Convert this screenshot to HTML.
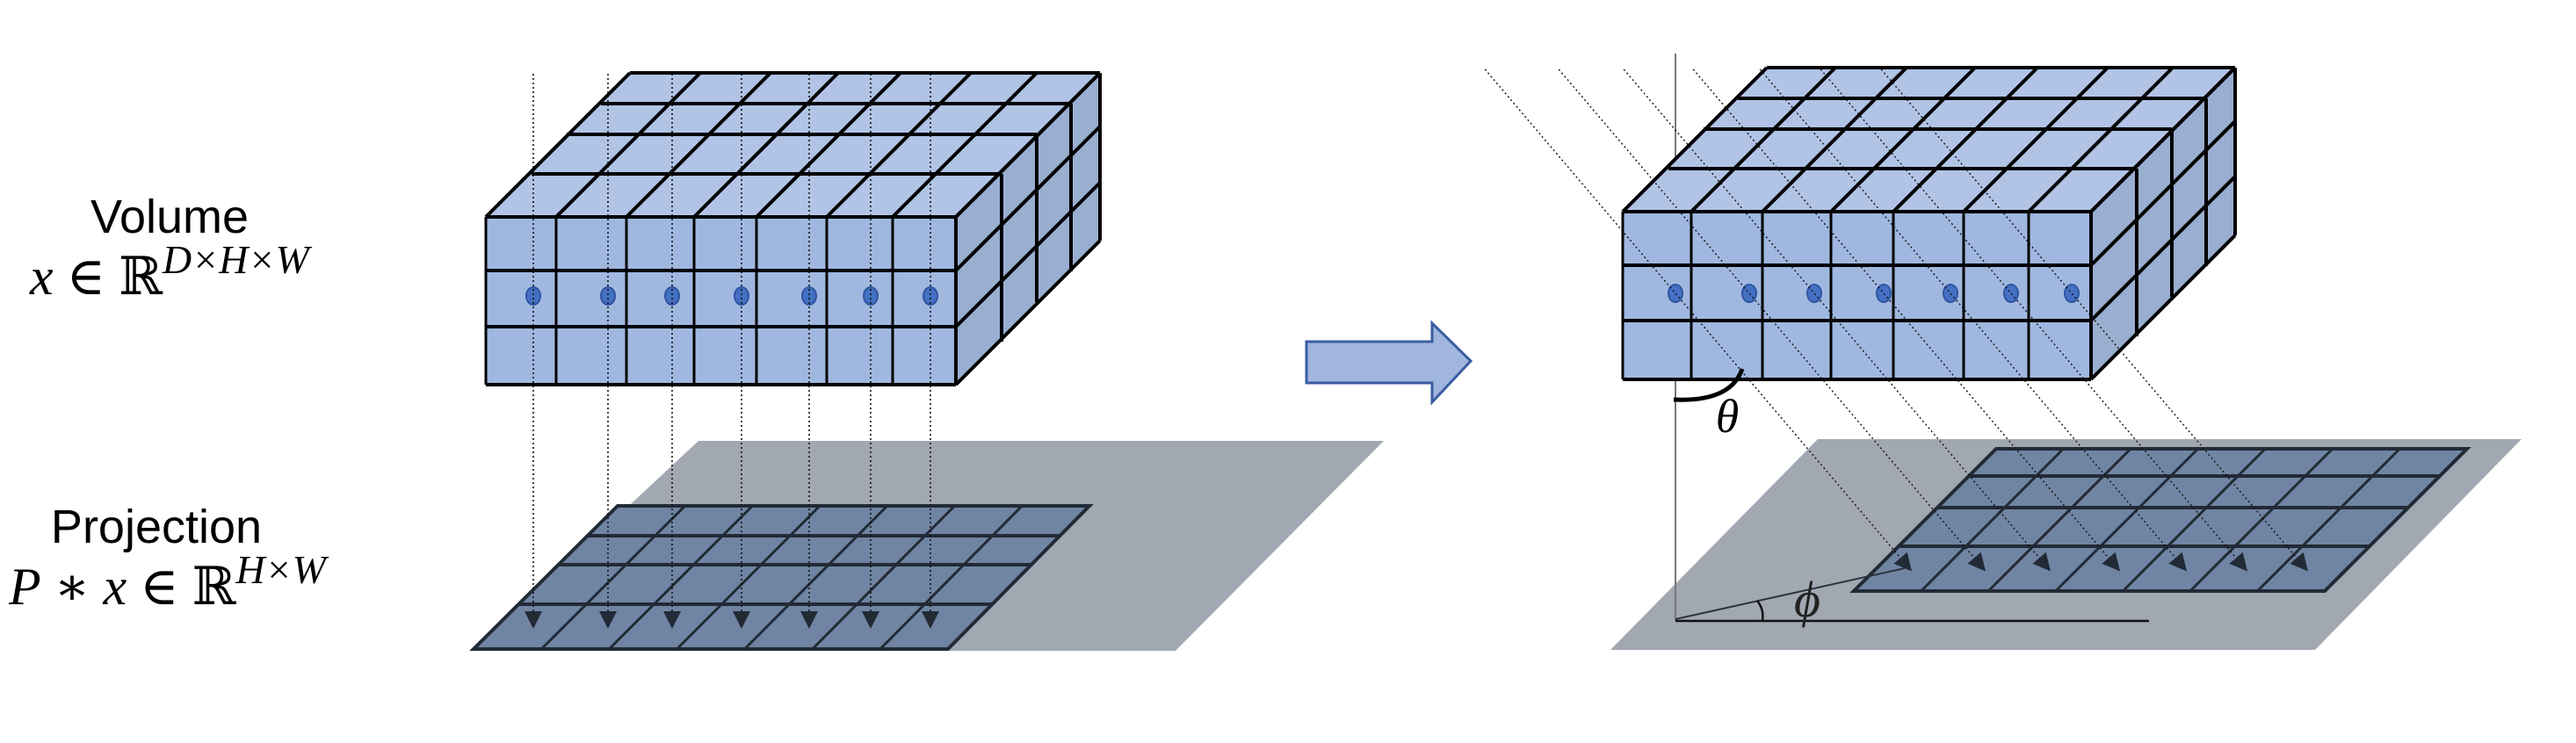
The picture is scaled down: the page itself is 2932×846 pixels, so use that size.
<!DOCTYPE html>
<html><head><meta charset="utf-8"><style>
html,body{margin:0;padding:0;background:#fff}
svg{display:block}
</style></head><body>
<svg id="fig" width="2932" height="846" viewBox="0 0 2932 846" xmlns="http://www.w3.org/2000/svg">
<defs>
<marker id="ah" viewBox="0 0 10 10" refX="9" refY="5" markerUnits="userSpaceOnUse" markerWidth="26" markerHeight="20" orient="auto-start-reverse"><path d="M0,0 L10,5 L0,10 z" fill="#222a36"/></marker>
</defs>
<g font-size="54">
<text x="193" y="265" text-anchor="middle" font-family="Liberation Sans, sans-serif">Volume</text>
<text x="34" y="335" font-size="60" font-family="Liberation Serif, DejaVu Serif, serif"><tspan font-style="italic">x</tspan> ∈ ℝ<tspan font-style="italic" font-size="46" dy="-24">D×H×W</tspan></text>
<text x="178" y="618" text-anchor="middle" font-family="Liberation Sans, sans-serif">Projection</text>
<text x="10" y="688" font-size="60" font-family="Liberation Serif, DejaVu Serif, serif"><tspan font-style="italic">P</tspan> ∗ <tspan font-style="italic">x</tspan> ∈ ℝ<tspan font-style="italic" font-size="46" dy="-24">H×W</tspan></text>
</g>
<polygon points="1487,389 1630,389 1630,368 1674,411 1630,458 1630,436 1487,436" fill="#a0b6de" stroke="#3a5ea0" stroke-width="3"/>
<g id="scene"></g>
</svg>
<script>
// geometry data
const colsLeft = [553,633,713,790,861,941,1016,1088];
const colsRight = [1847,1925,2006,2084,2155,2235,2309,2380];
const rowsLeft = [247,308,372,438];
const rowsRight = [241,302,365,432];
const depthDx = [0,52,92,131,164];
const depthDy = [0,-49,-94,-129,-164];
const dotsLeftX = [607,692,765,844,921,991,1059];
const dotsRightX = [1907,1991,2065,2144,2220,2289,2358];
const NS='http://www.w3.org/2000/svg';
const scene=document.getElementById('scene');
function mk(tag,attrs,parent){const e=document.createElementNS(NS,tag);for(const k in attrs)e.setAttribute(k,attrs[k]);(parent||scene).appendChild(e);return e;}
function pts(a){return a.map(p=>p[0]+','+p[1]).join(' ');}

function floor(name,quad,grid){
  const g=mk('g',{});
  
  
  const p=mk('polygon',{points:pts(quad),fill:'#a2a8b2'},g);
  
  
  const [tl,tr,bl,br,rowsY]=grid;
  const gp=mk('polygon',{points:pts([tl,tr,br,bl]),fill:'#7085a3',stroke:'#222a36','stroke-width':4},g);
  
  
  const H=bl[1]-tl[1];
  function xAt(y,t){const f=(y-tl[1])/H;const xl=tl[0]+(bl[0]-tl[0])*f, xr=tr[0]+(br[0]-tr[0])*f;return xl+(xr-xl)*t;}
  rowsY.forEach(y=>mk('line',{x1:xAt(y,0),y1:y,x2:xAt(y,1),y2:y,stroke:'#222a36','stroke-width':4},g));
  for(let i=1;i<7;i++)mk('line',{x1:xAt(tl[1],i/7),y1:tl[1],x2:xAt(bl[1],i/7),y2:bl[1],stroke:'#222a36','stroke-width':3},g);
}

function cube(name,cols,rows){
  const g=mk('g',{});
  
  
  const L=cols[0],R=cols[cols.length-1],T=rows[0],B=rows[rows.length-1];
  const n=depthDx.length-1, dx=depthDx[n], dy=depthDy[n];
  mk('polygon',{points:pts([[L,T],[R,T],[R+dx,T+dy],[L+dx,T+dy]]),fill:'#b1c4e6'},g);
  mk('polygon',{points:pts([[R,T],[R+dx,T+dy],[R+dx,B+dy],[R,B]]),fill:'#9aaed0'},g);
  mk('rect',{x:L,y:T,width:R-L,height:B-T,fill:'#a0b8e0'},g);
  const s={stroke:'#000','stroke-width':4};
  depthDx.forEach((ddx,k)=>{mk('line',Object.assign({x1:L+ddx,y1:T+depthDy[k],x2:R+ddx,y2:T+depthDy[k]},s),g);
    mk('line',Object.assign({x1:R+ddx,y1:T+depthDy[k],x2:R+ddx,y2:B+depthDy[k]},s),g);});
  cols.forEach(x=>mk('line',Object.assign({x1:x,y1:T,x2:x+dx,y2:T+dy},s),g));
  rows.forEach(y=>{mk('line',Object.assign({x1:L,y1:y,x2:R,y2:y},s),g);mk('line',Object.assign({x1:R,y1:y,x2:R+dx,y2:y+dy},s),g);});
  cols.forEach(x=>mk('line',{x1:x,y1:T,x2:x,y2:B,stroke:'#000','stroke-width':3},g));
}

function dots(name,xs,y){
  xs.forEach(x=>{const d=mk('ellipse',{cx:x,cy:y,rx:8,ry:10,fill:'#4470c4',stroke:'#2f55a0','stroke-width':2});
    
    });
}

// Left scene
floor('left-floor',[[795,502],[1575,502],[1338,741],[539,741]],[[703,576],[1240,576],[539,739],[1079,739],[610,643,688]]);
cube('left-volume',colsLeft,rowsLeft);
dots('left-voxel-dot',dotsLeftX,337);
dotsLeftX.forEach(x=>{const l=mk('line',{x1:x,y1:84,x2:x,y2:714,stroke:'#111','stroke-width':1.6,'stroke-dasharray':'2,3','marker-end':'url(#ah)'});
  
  });

// Right scene
floor('right-floor',[[2069,500],[2870,500],[2635,740],[1833,740]],[[2272,511],[2808,511],[2110,673],[2646,673],[542,578,622]]);
const ax=mk('g',{});


mk('line',{x1:1907,y1:61,x2:1907,y2:707,stroke:'#777','stroke-width':2},ax);
mk('line',{x1:1907,y1:707,x2:2446,y2:707,stroke:'#111','stroke-width':2.5},ax);
mk('line',{x1:1907,y1:705,x2:2168,y2:647,stroke:'#2a3340','stroke-width':2},ax);
mk('path',{d:'M2000,684 Q2008,694 2006,706',fill:'none',stroke:'#111','stroke-width':2.5},ax);
cube('right-volume',colsRight,rowsRight);
dots('right-voxel-dot',dotsRightX,334);
const slope=0.85, yTop=79, yTip=649;
dotsRightX.forEach(x=>{const x0=x-slope*(334-yTop), x1=x+slope*(yTip-334);
  const l=mk('line',{x1:x0,y1:yTop,x2:x1,y2:yTip,stroke:'#111','stroke-width':1.4,'stroke-dasharray':'2,3','marker-end':'url(#ah)'});
  
  });
const th=mk('path',{d:'M1905,455 Q1970,458 1983,420',fill:'none',stroke:'#000','stroke-width':5});


const tt=mk('text',{x:1966,y:492,'font-size':54,'font-style':'italic','text-anchor':'middle','font-family':'Liberation Serif, serif'});
tt.textContent='θ';


const pt=mk('text',{x:2057,y:702,'font-size':58,'font-style':'italic','text-anchor':'middle','font-family':'Liberation Serif, DejaVu Serif, serif',fill:'#222'});
pt.textContent='ϕ';


</script>
</body></html>
